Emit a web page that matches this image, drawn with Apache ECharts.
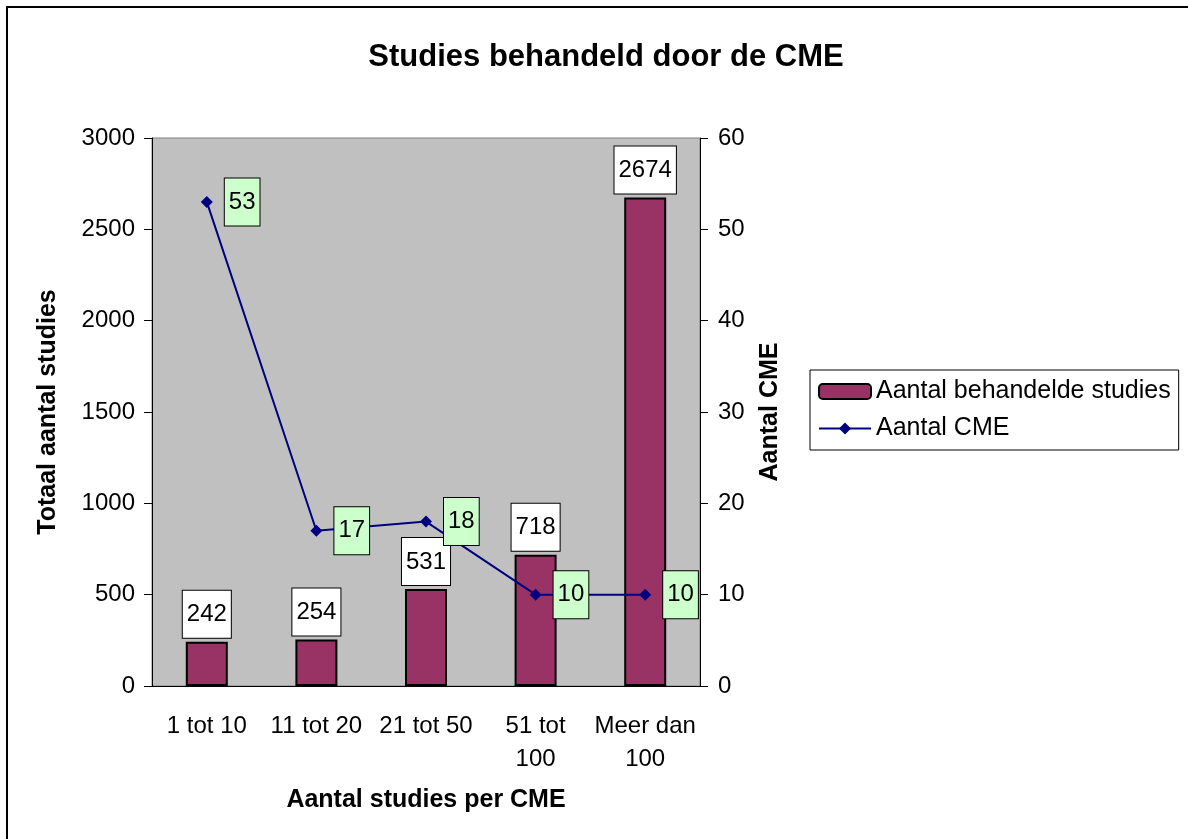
<!DOCTYPE html>
<html>
<head>
<meta charset="utf-8">
<script src="https://cdn.jsdelivr.net/npm/echarts@6/dist/echarts.min.js"></script>
<style>
    html, body { margin: 0; padding: 0; background: #fff; }
    #chart { width: 1188px; height: 839px; }
</style>
</head>
<body>
<div id="chart"></div>
<script>
// categorieen en waarden
var categories = ['1 tot 10', '11 tot 20', '21 tot 50', '51 tot\n100', 'Meer dan\n100'];
var studies = [242, 254, 531, 718, 2674];
var cme = [53, 17, 18, 10, 10];
var leftTicks = [0, 3000, 500];   // min, max, interval
var rightTicks = [0, 60, 10];

var font = '"Liberation Sans", Arial, sans-serif';
var plain = function (v) { return String(v); };

var chart = echarts.init(document.getElementById('chart'));
var option = {
    animation: false,
    textStyle: { fontFamily: font, color: '#000' },
    title: {
        text: 'Studies behandeld door de CME',
        left: 601, top: 37, textAlign: 'center',
        textStyle: { fontSize: 31, fontWeight: 'bold', color: '#000', fontFamily: font }
    },
    // rand linksboven (rest valt buiten beeld)
    graphic: [{
        type: 'polyline', shape: { points: [[7, 839], [7, 7], [1188, 7]] },
        style: { fill: 'none', stroke: '#000', lineWidth: 2 }, z: -10
    }],
    legend: {
        orient: 'vertical', left: 810, top: 370,
        borderColor: '#000', borderWidth: 1, padding: [9, 8, 9, 8],
        itemWidth: 52, itemHeight: 15, itemGap: 12,
        textStyle: { fontSize: 25, color: '#000', fontFamily: font },
        data: ['Aantal behandelde studies', 'Aantal CME']
    },
    grid: { left: 152, right: 488, top: 138, bottom: 153, show: true, backgroundColor: '#c0c0c0', borderColor: '#808080', borderWidth: 1 },
    xAxis: {
        type: 'category', data: categories,
        name: 'Aantal studies per CME', nameLocation: 'middle', nameGap: 102,
        nameTextStyle: { fontSize: 25, fontWeight: 'bold', color: '#000' },
        axisLine: { lineStyle: { color: '#000' } },
        axisTick: { length: 8, lineStyle: { color: '#000' } },
        axisLabel: { fontSize: 24, color: '#000', margin: 24, lineHeight: 33, interval: 0 }
    },
    yAxis: [{
        type: 'value', min: leftTicks[0], max: leftTicks[1], interval: leftTicks[2],
        name: 'Totaal aantal studies', nameLocation: 'middle', nameGap: 91,
        nameTextStyle: { fontSize: 25, fontWeight: 'bold', color: '#000' },
        axisLine: { show: true, lineStyle: { color: '#000' } },
        axisTick: { show: true, length: 8, lineStyle: { color: '#000' } },
        axisLabel: { fontSize: 24, color: '#000', margin: 17, formatter: plain },
        splitLine: { show: false }
    }, {
        type: 'value', min: rightTicks[0], max: rightTicks[1], interval: rightTicks[2],
        name: 'Aantal CME', nameLocation: 'middle', nameGap: 58,
        nameTextStyle: { fontSize: 25, fontWeight: 'bold', color: '#000' },
        axisLine: { show: true, lineStyle: { color: '#000' } },
        axisTick: { show: true, length: 8, lineStyle: { color: '#000' } },
        axisLabel: { fontSize: 24, color: '#000', margin: 18, formatter: plain },
        splitLine: { show: false }
    }],
    series: [{
        name: 'Aantal behandelde studies', type: 'bar', data: studies,
        barWidth: 42,
        itemStyle: { color: '#993366', borderColor: '#000', borderWidth: 2 },
        label: {
            show: true, position: 'top', distance: 4,
            fontSize: 24, color: '#000',
            backgroundColor: '#fff', borderColor: '#000', borderWidth: 1,
            padding: [12, 4, 11, 4]
        }
    }, {
        name: 'Aantal CME', type: 'line', yAxisIndex: 1, data: cme,
        symbol: 'diamond', symbolSize: 12,
        lineStyle: { color: '#000080', width: 2 },
        itemStyle: { color: '#000080' },
        label: {
            show: true, position: 'right', distance: 12,
            fontSize: 24, color: '#000',
            backgroundColor: '#ccffcc', borderColor: '#000', borderWidth: 1,
            padding: [12, 4, 11, 4]
        }
    }]
};
chart.setOption(option);
</script>
</body>
</html>
